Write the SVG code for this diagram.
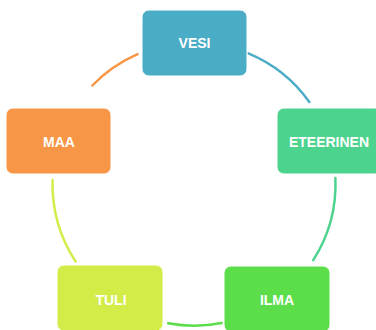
<svg xmlns="http://www.w3.org/2000/svg" width="376" height="330" viewBox="0 0 376 330">
<style>
.box{stroke:#ffffff;stroke-width:1}
.lbl{font-family:"Liberation Sans",Arial,sans-serif;font-weight:bold;font-size:14px;fill:#ffffff;text-anchor:middle}
.arc{fill:none;stroke-width:2.5;stroke-linecap:round}
</style>
<rect width="376" height="330" fill="#ffffff"/>
<g id="connectors">
<path class="arc" stroke="#4BACC6" d="M248.4,53.4 A141.5,141.5 0 0 1 309.3,102"/>
<path class="arc" stroke="#4CD38E" d="M335.4,178.1 A141.5,141.5 0 0 1 313.2,260.2"/>
<path class="arc" stroke="#5CDD4A" d="M221.7,323 A141.5,141.5 0 0 1 168.2,323.2"/>
<path class="arc" stroke="#D3EC48" d="M75.6,261.5 A141.5,141.5 0 0 1 52.6,180.1"/>
<path class="arc" stroke="#F79646" d="M92.4,85.5 A141.5,141.5 0 0 1 137.6,54.2"/>
</g>
<g id="vesi">
<rect class="box" x="142" y="10" width="105" height="66" rx="7" fill="#4BACC6"/>
<text class="lbl" x="194.5" y="48">VESI</text>
</g>
<g id="eteerinen">
<rect class="box" x="277" y="108" width="105" height="66" rx="7" fill="#4CD38E"/>
<text class="lbl" x="329" y="146.5">ETEERINEN</text>
</g>
<g id="ilma">
<rect class="box" x="224" y="266" width="106" height="66" rx="7" fill="#5CDD4A"/>
<text class="lbl" x="277" y="305">ILMA</text>
</g>
<g id="tuli">
<rect class="box" x="57" y="265" width="106" height="66" rx="7" fill="#D3EC48"/>
<text class="lbl" x="111" y="305">TULI</text>
</g>
<g id="maa">
<rect class="box" x="6" y="108" width="105" height="66" rx="7" fill="#F79646"/>
<text class="lbl" x="59" y="146.5">MAA</text>
</g>
</svg>
